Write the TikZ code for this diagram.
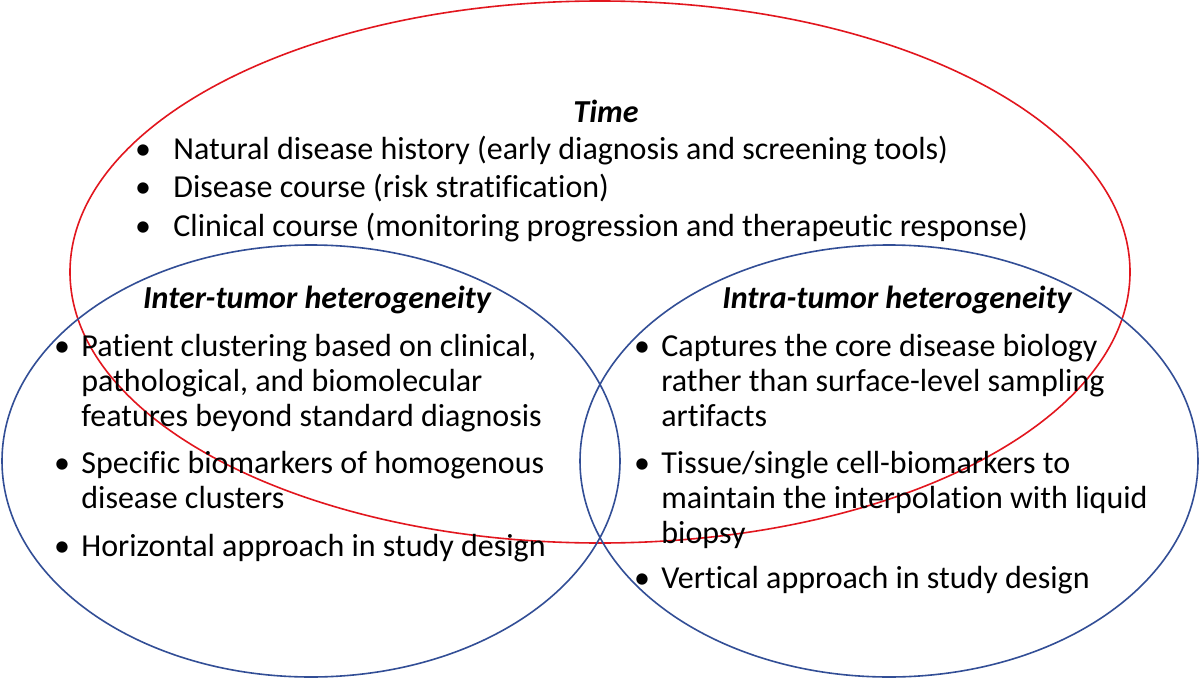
\documentclass[tikz,border=0pt]{standalone}
\usepackage{fontspec}
\setmainfont{Carlito}[Ligatures=NoCommon]
\usetikzlibrary{shapes.geometric}
\definecolor{vred}{RGB}{226,22,30}
\definecolor{vblue}{RGB}{50,78,150}
\tikzset{
  ring/.style={ellipse, draw, line width=0.8pt, inner sep=0pt, outer sep=0pt},
  head/.style={anchor=base, font=\fontsize{16}{18}\selectfont\bfseries\itshape, inner sep=0pt},
  item/.style={anchor=base west, font=\fontsize{16}{18}\selectfont, inner sep=0pt},
  dot/.style={anchor=base, font=\fontsize{16}{18}\selectfont, inner sep=0pt}
}
\begin{document}
\begin{tikzpicture}[x=0.5pt,y=-0.5pt]
\useasboundingbox[fill=white] (0,0) rectangle (1200,680);
\node[ring, draw=vred, minimum width=530pt, minimum height=271pt] (time) at (600,272) {};
\node[ring, draw=vblue, minimum width=309pt, minimum height=216pt] (inter) at (311,461) {};
\node[ring, draw=vblue, minimum width=309pt, minimum height=216pt] (intra) at (889,461) {};
% Time
\node[head] (th) at (606,122) {Time};
\node[dot] (tb1) at (143,159) {•}; \node[item] (t1) at (173,159) {Natural disease history (early diagnosis and screening tools)};
\node[dot] (tb2) at (143,197) {•}; \node[item] (t2) at (173,197) {Disease course (risk stratification)};
\node[dot] (tb3) at (143,236) {•}; \node[item] (t3) at (173,236) {Clinical course (monitoring progression and therapeutic response)};
% Inter
\node[head] (ih) at (317,308) {Inter-tumor heterogeneity};
\node[dot] (lb1) at (62,356) {•};
\node[item] (l1a) at (81,356) {Patient clustering based on clinical,};
\node[item] (l1b) at (81,391) {pathological, and biomolecular};
\node[item] (l1c) at (81,426) {features beyond standard diagnosis};
\node[dot] (lb2) at (62,473) {•};
\node[item] (l2a) at (81,473) {Specific biomarkers of homogenous};
\node[item] (l2b) at (81,508) {disease clusters};
\node[dot] (lb3) at (62,556) {•};
\node[item] (l3a) at (81,556) {Horizontal approach in study design};
% Intra
\node[head] (rh) at (897,308) {Intra-tumor heterogeneity};
\node[dot] (rb1) at (642,356) {•};
\node[item] (r1a) at (661,356) {Captures the core disease biology};
\node[item] (r1b) at (661,391) {rather than surface-level sampling};
\node[item] (r1c) at (661,426) {artifacts};
\node[dot] (rb2) at (642,473) {•};
\node[item] (r2a) at (661,473) {Tissue/single cell-biomarkers to};
\node[item] (r2b) at (661,508) {maintain the interpolation with liquid};
\node[item] (r2c) at (661,543) {biopsy};
\node[dot] (rb3) at (642,588) {•};
\node[item] (r3a) at (661,588) {Vertical approach in study design};
\end{tikzpicture}
\end{document}
